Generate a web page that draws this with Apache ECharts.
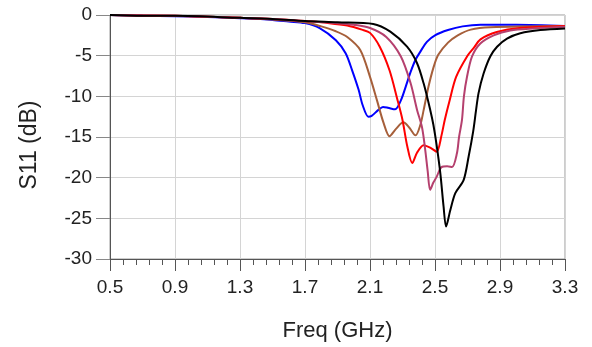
<!DOCTYPE html>
<html>
<head>
<meta charset="utf-8">
<script src="https://cdn.jsdelivr.net/npm/echarts@6/dist/echarts.min.js"></script>
<style>html,body{margin:0;padding:0;background:#fff}#c{width:592px;height:347px}</style>
</head>
<body>
<div id="c"></div>
<script>
var xTicks = [0.5, 0.9, 1.3, 1.7, 2.1, 2.5, 2.9, 3.3];
var yTicks = [0, -5, -10, -15, -20, -25, -30];
var seriesNames = ['blue', 'brown', 'red', 'purple', 'black'];
var seriesColors = ['#0000ff', '#a65f3a', '#ff0000', '#b5406e', '#000000'];

var blue = [[0.5,0],[0.7,-0.1],[0.9,-0.15],[1.1,-0.25],[1.3,-0.4],[1.5,-0.6],[1.6,-0.8],[1.7,-1.0],[1.79,-1.6],[1.89,-3.1],[1.95,-4.7],[1.99,-6.8],[2.03,-9.2],[2.055,-11.1],[2.09,-12.5],[2.11,-12.4],[2.15,-11.7],[2.18,-11.3],[2.21,-11.4],[2.255,-11.6],[2.29,-10.5],[2.32,-8.8],[2.35,-7.0],[2.38,-5.5],[2.41,-4.5],[2.45,-3.3],[2.5,-2.5],[2.58,-1.85],[2.67,-1.4],[2.78,-1.2],[3.0,-1.2],[3.3,-1.35]];
var brown = [[0.5,0],[0.7,-0.1],[0.9,-0.12],[1.1,-0.2],[1.3,-0.35],[1.5,-0.55],[1.7,-0.9],[1.8,-1.4],[1.89,-2.0],[1.96,-2.7],[2.04,-4.3],[2.10,-7.6],[2.143,-10.5],[2.184,-13.3],[2.22,-14.9],[2.26,-14.0],[2.305,-13.2],[2.34,-13.8],[2.38,-14.8],[2.41,-13.5],[2.43,-11.7],[2.46,-8.8],[2.49,-6.5],[2.52,-4.9],[2.58,-3.4],[2.64,-2.5],[2.72,-1.8],[2.84,-1.5],[3.3,-1.35]];
var red = [[0.5,0],[0.9,-0.1],[1.3,-0.35],[1.5,-0.5],[1.7,-0.75],[1.85,-1.0],[1.96,-1.3],[2.05,-1.8],[2.10,-2.2],[2.16,-3.9],[2.22,-6.8],[2.27,-10.5],[2.30,-12.9],[2.33,-16.2],[2.36,-18.2],[2.39,-16.9],[2.43,-16.0],[2.47,-16.3],[2.51,-16.8],[2.54,-14.8],[2.56,-12.9],[2.59,-10.5],[2.63,-7.6],[2.70,-5.0],[2.74,-4.0],[2.78,-3.0],[2.88,-2.1],[3.02,-1.6],[3.3,-1.35]];
var purple = [[0.5,0],[0.9,-0.1],[1.3,-0.35],[1.5,-0.5],[1.7,-0.75],[1.9,-1.0],[2.0,-1.2],[2.1,-1.6],[2.2,-2.7],[2.29,-5.1],[2.35,-8.4],[2.39,-11.7],[2.42,-13.8],[2.44,-16.6],[2.455,-19.2],[2.47,-21.5],[2.49,-20.6],[2.51,-19.9],[2.54,-18.7],[2.575,-18.6],[2.605,-18.7],[2.635,-17.0],[2.648,-15.0],[2.666,-12.9],[2.678,-10.0],[2.697,-7.6],[2.728,-5.1],[2.779,-3.5],[2.861,-2.5],[2.963,-1.9],[3.105,-1.65],[3.3,-1.45]];
var black = [[0.5,0],[0.7,-0.1],[0.9,-0.1],[1.3,-0.35],[1.5,-0.5],[1.7,-0.75],[1.9,-0.9],[2.12,-1.1],[2.225,-2.05],[2.328,-3.9],[2.389,-5.9],[2.43,-8.4],[2.471,-11.7],[2.49,-13.5],[2.51,-16.0],[2.533,-19.5],[2.553,-23.6],[2.568,-26.0],[2.594,-24.0],[2.625,-21.9],[2.676,-20.3],[2.707,-17.4],[2.735,-14.3],[2.752,-11.8],[2.768,-9.6],[2.799,-7.2],[2.840,-5.1],[2.882,-3.9],[2.943,-2.9],[3.025,-2.25],[3.148,-1.85],[3.3,-1.65]];

var allData = [blue, brown, red, purple, black];
var X0 = xTicks[0];

var chart = echarts.init(document.getElementById('c'), null, {renderer: 'canvas'});
var font = 'Liberation Sans, Arial, sans-serif';
chart.setOption({
  animation: false,
  backgroundColor: '#fff',
  grid: {left: 110, right: 27, top: 15, bottom: 88, show: true, borderColor: '#9a9a9a', borderWidth: 1},
  xAxis: {
    type: 'value', min: 0, max: xTicks[xTicks.length-1] - X0, interval: 0.4,
    name: 'Freq (GHz)', nameLocation: 'middle', nameGap: 61,
    nameTextStyle: {fontFamily: font, fontSize: 22, color: '#222'},
    axisLine: {show: true, onZero: false, lineStyle: {color: '#555', width: 1}},
    axisTick: {show: true, length: 12, lineStyle: {color: '#555'}},
    minorTick: {show: true, splitNumber: 5, length: 6, lineStyle: {color: '#555'}},
    axisLabel: {fontFamily: font, fontSize: 19, color: '#222', margin: 19,
      formatter: function (v) { return (v + X0).toFixed(1); }},
    splitLine: {show: true, lineStyle: {color: '#d4d4d4', width: 1}}
  },
  yAxis: {
    type: 'value', min: yTicks[yTicks.length-1], max: yTicks[0], interval: 5,
    name: 'S11 (dB)', nameLocation: 'middle', nameGap: 69, nameRotate: 90,
    nameTextStyle: {fontFamily: font, fontSize: 23, color: '#222', padding: [0, 16, 0, 0]},
    axisLine: {show: true, onZero: false, lineStyle: {color: '#555', width: 1}},
    axisTick: {show: true, length: 14, lineStyle: {color: '#888'}},
    axisLabel: {fontFamily: font, fontSize: 19, color: '#222', margin: 18},
    splitLine: {show: true, lineStyle: {color: '#d4d4d4', width: 1}}
  },
  series: allData.map(function (d, i) {
    return {
      name: seriesNames[i], type: 'line', showSymbol: false, smooth: 0.3,
      lineStyle: {color: seriesColors[i], width: 2},
      itemStyle: {color: seriesColors[i]},
      data: d.map(function (p) { return [p[0] - X0, p[1]]; })
    };
  })
});
</script>
</body>
</html>
